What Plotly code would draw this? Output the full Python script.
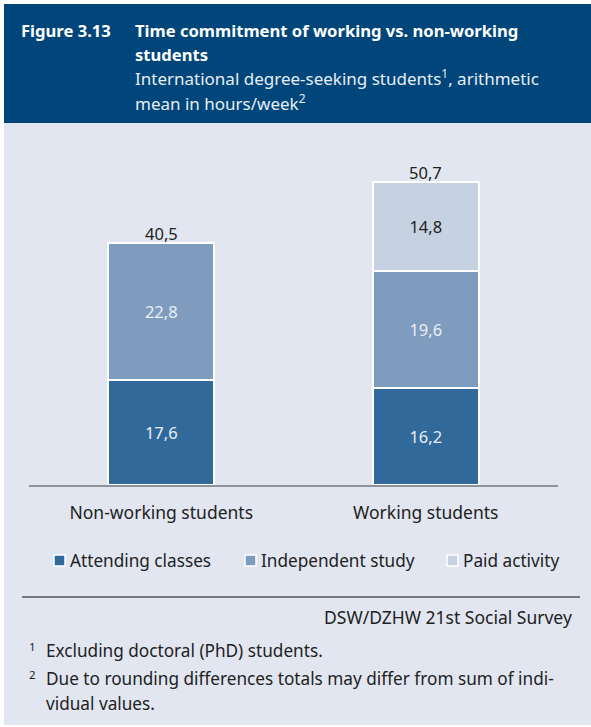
import plotly.graph_objects as go

# Data (hours per week, arithmetic mean)
groups = ["Non-working students", "Working students"]
series_names = ["Attending classes", "Independent study", "Paid activity"]
attending = [17.6, 16.2]
independent = [22.8, 19.6]
paid = [None, 14.8]
totals = [40.5, 50.7]

colors = ["#31699b", "#7f9cbf", "#c6d2e2"]
text_colors = ["#e9eef5", "#e9eef5", "#222222"]

FONT = "Noto Sans"
W, H = 591, 727
BG = "#e1e6f0"
HEADER = "#00467a"


def fmt(v):
    return "" if v is None else f"{v:.1f}".replace(".", ",")


fig = go.Figure()
for name, vals, col, tcol in zip(series_names, [attending, independent, paid], colors, text_colors):
    fig.add_trace(go.Bar(
        x=groups, y=vals, name=name,
        marker=dict(color=col, line=dict(color="white", width=2)),
        text=[fmt(v) for v in vals], textposition="inside",
        insidetextanchor="middle", textangle=0,
        textfont=dict(family=FONT, size=16.5, color=tcol),
        width=0.4, showlegend=False, hoverinfo="skip",
    ))

# totals above stacks
for g, t in zip(groups, totals):
    fig.add_annotation(x=g, y=t, xref="x", yref="y", text=fmt(t), showarrow=False,
                       yanchor="bottom", yshift=-4,
                       font=dict(family=FONT, size=16.5, color="#222222"))


def px(x):
    return x / W


def py(y):
    return 1 - y / H


shapes = [
    dict(type="rect", xref="paper", yref="paper", x0=px(4), x1=1, y0=py(725), y1=py(4),
         fillcolor=BG, line=dict(width=0), layer="below"),
    dict(type="rect", xref="paper", yref="paper", x0=px(4), x1=1, y0=py(123), y1=py(4),
         fillcolor=HEADER, line=dict(width=0), layer="below"),
    dict(type="line", xref="paper", yref="paper", x0=px(22), x1=px(580), y0=py(597), y1=py(597),
         line=dict(color="#555555", width=1.5)),
]

# legend swatches and labels
legend_x = [54, 245, 447]
for name, col, lx in zip(series_names, colors, legend_x):
    shapes.append(dict(type="rect", xref="paper", yref="paper", x0=px(lx), x1=px(lx + 11),
                       y0=py(566), y1=py(555), fillcolor=col, line=dict(color="white", width=1.5)))
    fig.add_annotation(x=px(lx + 14), y=py(560), xref="paper", yref="paper", text=name,
                       showarrow=False, xanchor="left", yanchor="middle",
                       font=dict(family=FONT, size=17.2, color="#222222"))

texts = [
    (19, 30, "<b>Figure 3.13</b>", "white", 16.6, "left"),
    (133, 30, "<b>Time commitment of working vs. non-working</b>", "white", 16.6, "left"),
    (133, 54, "<b>students</b>", "white", 16.6, "left"),
    (133, 78, "International degree-seeking students<sup>1</sup>, arithmetic", "#e8edf4", 17, "left"),
    (133, 102, "mean in hours/week<sup>2</sup>", "#e8edf4", 17, "left"),
    (574, 617, "DSW/DZHW 21st Social Survey", "#222222", 17.5, "right"),
    (27, 646, "1", "#222222", 11.5, "left"),
    (44, 650, "Excluding doctoral (PhD) students.", "#222222", 17.2, "left"),
    (27, 674, "2", "#222222", 11.5, "left"),
    (44, 678, "Due to rounding differences totals may differ from sum of indi-", "#222222", 17.2, "left"),
    (44, 703, "vidual values.", "#222222", 17.2, "left"),
]
for x, y, t, c, s, anc in texts:
    fig.add_annotation(x=px(x), y=py(y), xref="paper", yref="paper", text=t, showarrow=False,
                       xanchor=anc, yanchor="middle", font=dict(family=FONT, size=s, color=c))

fig.update_layout(
    width=W, height=H, autosize=False,
    margin=dict(l=0, r=0, t=0, b=0),
    paper_bgcolor="white", plot_bgcolor="rgba(0,0,0,0)",
    barmode="stack", shapes=shapes,
    font=dict(family=FONT, color="#222222"),
    xaxis=dict(domain=[px(29), px(558)], range=[-0.5, 1.5], showline=True,
               linecolor="#8f9299", linewidth=2, ticks="", showgrid=False,
               tickfont=dict(family=FONT, size=17.5, color="#222222"), ticklabelstandoff=11),
    yaxis=dict(domain=[py(485), py(156)], range=[0, 55], visible=False, showgrid=False),
)

fig.write_html("out.html")
